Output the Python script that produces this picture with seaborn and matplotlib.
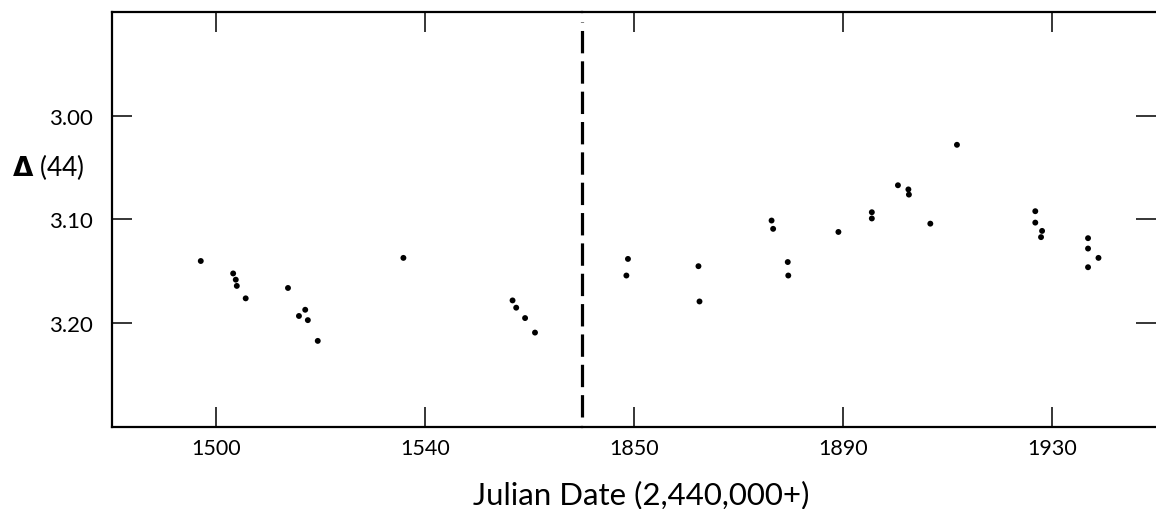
import numpy as np
import pandas as pd
import matplotlib
matplotlib.use("Agg")
import matplotlib.pyplot as plt
import seaborn as sns

# --- dados ---
# trecho esquerdo do eixo (JD 2,441,480 - 2,441,570)
left_days = [1497.0, 1503.2, 1503.7, 1503.9, 1505.6, 1513.7, 1515.8, 1517.0,
             1517.5, 1519.4, 1535.8, 1556.7, 1557.4, 1559.1, 1561.0]
left_delta = [3.140, 3.152, 3.158, 3.164, 3.176, 3.166, 3.193, 3.187,
              3.197, 3.217, 3.137, 3.178, 3.185, 3.195, 3.209]

# trecho direito do eixo (JD 2,441,840 - 2,441,950)
right_days = [1848.8, 1848.5, 1862.3, 1862.5, 1876.3, 1876.6, 1879.4, 1879.5,
              1889.1, 1895.5, 1895.5, 1900.5, 1902.5, 1902.6, 1906.7, 1911.8,
              1926.8, 1926.8, 1928.1, 1927.9, 1936.9, 1936.9, 1936.9, 1938.9]
right_delta = [3.138, 3.154, 3.145, 3.179, 3.101, 3.109, 3.141, 3.154,
               3.112, 3.093, 3.099, 3.067, 3.071, 3.076, 3.104, 3.028,
               3.092, 3.103, 3.111, 3.117, 3.118, 3.128, 3.146, 3.137]

left_ticks = [1500, 1540]
right_ticks = [1850, 1890, 1930]
y_ticks = [3.00, 3.10, 3.20]
y_ticklabels = ["3.00", "3.10", "3.20"]

df_left = pd.DataFrame({"dia": left_days, "delta": left_delta})
df_right = pd.DataFrame({"dia": right_days, "delta": right_delta})

sns.set_theme(style="white")
plt.rcParams["font.family"] = ["Lato", "DejaVu Sans"]

W, H = 1156, 510
fig = plt.figure(figsize=(W / 100, H / 100), dpi=100, facecolor="white")

x0, x_split, x1 = 112, 582, 1156
y_top, y_bot = 13, 428
ax1 = fig.add_axes([x0 / W, 1 - y_bot / H, (x_split - x0) / W, (y_bot - y_top) / H])
ax2 = fig.add_axes([x_split / W, 1 - y_bot / H, (x1 - x_split) / W, (y_bot - y_top) / H])

sns.scatterplot(data=df_left, x="dia", y="delta", ax=ax1, color="black",
                s=18, edgecolor="none", legend=False)
sns.scatterplot(data=df_right, x="dia", y="delta", ax=ax2, color="black",
                s=18, edgecolor="none", legend=False)

ax1.set_xlim(1480, 1570)
ax2.set_xlim(1840, 1840 + (x1 - x_split) / ((x_split - x0) / 90))
for ax in (ax1, ax2):
    ax.set_ylim(3.30, 2.90)
    ax.set_xlabel("")
    ax.set_ylabel("")
    ax.set_facecolor("none")
    for sp in ax.spines.values():
        sp.set_linewidth(1.6)
        sp.set_color("black")
    ax.tick_params(axis="x", which="both", direction="in", length=14.5,
                   width=1.1, color="black", top=True, bottom=True,
                   labelsize=15.5, pad=8, labelcolor="black")

ax1.spines["right"].set_visible(False)
ax2.spines["left"].set_visible(False)
ax2.spines["right"].set_visible(False)

ax1.set_xticks(left_ticks)
ax1.set_xticklabels([str(t) for t in left_ticks])
ax2.set_xticks(right_ticks)
ax2.set_xticklabels([str(t) for t in right_ticks])

ax1.set_yticks(y_ticks)
ax1.set_yticklabels(y_ticklabels)
ax1.tick_params(axis="y", direction="in", length=14.5, width=1.1, color="black",
                left=True, right=False, labelsize=16, pad=13.5, labelcolor="black")
ax2.set_yticks(y_ticks)
ax2.tick_params(axis="y", direction="in", length=14.5, width=1.1, color="black",
                left=False, right=True, labelleft=False, labelright=False)

# linha tracejada separando os dois trechos
ax2.axvline(1840, ymin=0.024, ymax=0.976, color="black", linewidth=2.3,
            dashes=(7, 2.5), clip_on=False, zorder=5)

fig.text(12 / W, 1 - 167 / H, r"$\mathbf{\Delta}$ (44)", fontsize=19,
         ha="left", va="center", color="black")
fig.text(641 / W, 1 - 495 / H, "Julian Date (2,440,000+)", fontsize=22.5,
         ha="center", va="center", color="black")

fig.savefig("out.png", dpi=100, facecolor="white")
